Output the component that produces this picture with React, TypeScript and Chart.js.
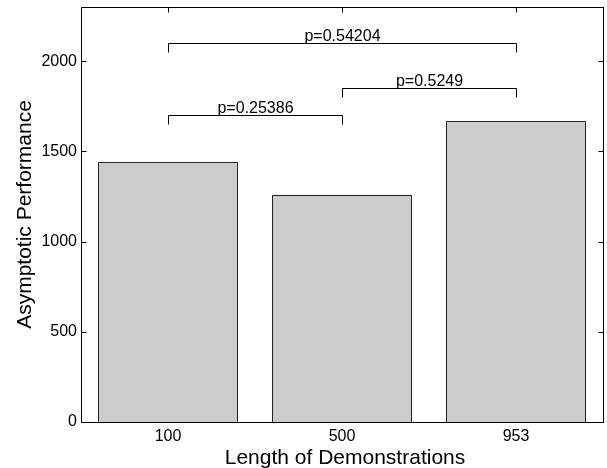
import { useEffect, useRef } from "react";
import { Chart, registerables } from "chart.js";
Chart.register(...registerables);

const categories = ["100", "500", "953"];
const performance = [1441, 1259, 1667];
const yTicks = [0, 500, 1000, 1500, 2000];
const yMax = 2300;
const bracketFrom = [0, 1, 0];
const bracketTo = [1, 2, 2];
const bracketLevel = [1700, 1850, 2100];
const bracketLabels = ["p=0.25386", "p=0.5249", "p=0.54204"];
const bracketDrop = 50;
const xTitle = "Length of Demonstrations";
const yTitle = "Asymptotic Performance";

const FONT = "'Liberation Sans', Arial, Helvetica, sans-serif";

const decor = {
  id: "decor",
  afterDatasetsDraw(chart: any) {
    const { ctx } = chart;
    const meta = chart.getDatasetMeta(0);
    ctx.save();
    ctx.strokeStyle = "#222222";
    ctx.lineWidth = 1;
    meta.data.forEach((bar: any) => {
      const { x, y, base, width } = bar.getProps(["x", "y", "base", "width"], true);
      const l = Math.round(x - width / 2) + 0.5;
      const r = Math.round(x + width / 2) - 0.5;
      const t = Math.round(y) + 0.5;
      const b = Math.round(base);
      ctx.beginPath();
      ctx.moveTo(l, b);
      ctx.lineTo(l, t);
      ctx.lineTo(r, t);
      ctx.lineTo(r, b);
      ctx.stroke();
    });
    ctx.restore();
  },
  afterDraw(chart: any) {
    const { ctx, chartArea: a, scales } = chart;
    const xs = scales.x;
    const ys = scales.y;
    const line = (x1: number, y1: number, x2: number, y2: number) => {
      ctx.beginPath();
      ctx.moveTo(x1, y1);
      ctx.lineTo(x2, y2);
      ctx.stroke();
    };
    ctx.save();
    ctx.strokeStyle = "#000";
    ctx.lineWidth = 1;
    const L = Math.round(a.left) + 0.5;
    const R = Math.round(a.right) + 0.5;
    const T = Math.round(a.top) + 0.5;
    const B = Math.round(a.bottom) + 0.5;
    ctx.strokeRect(L, T, R - L, B - T);
    yTicks.forEach((v) => {
      const py = Math.round(ys.getPixelForValue(v)) + 0.5;
      line(L, py, L + 5, py);
      line(R - 5, py, R, py);
    });
    categories.forEach((_, i) => {
      const px = Math.round(xs.getPixelForValue(i)) + 0.5;
      line(px, T, px, T + 5);
    });
    // significance brackets
    ctx.font = `16px ${FONT}`;
    ctx.fillStyle = "#000";
    ctx.textAlign = "center";
    ctx.textBaseline = "alphabetic";
    bracketLevel.forEach((lvl, k) => {
      const x1 = Math.round(xs.getPixelForValue(bracketFrom[k])) + 0.5;
      const x2 = Math.round(xs.getPixelForValue(bracketTo[k])) + 0.5;
      const py = Math.round(ys.getPixelForValue(lvl)) + 0.5;
      const pd = Math.round(ys.getPixelForValue(lvl - bracketDrop)) + 0.5;
      ctx.beginPath();
      ctx.moveTo(x1, pd);
      ctx.lineTo(x1, py);
      ctx.lineTo(x2, py);
      ctx.lineTo(x2, pd);
      ctx.stroke();
      ctx.fillText(bracketLabels[k], (x1 + x2) / 2, py - 3);
    });
    // axis titles
    ctx.font = `21px ${FONT}`;
    ctx.fillText(xTitle, (a.left + a.right) / 2 + 3, 464);
    ctx.translate(31, (a.top + a.bottom) / 2);
    ctx.rotate(-Math.PI / 2);
    ctx.fillText(yTitle, 0, 0);
    ctx.restore();
  },
};

export default function App() {
  const ref = useRef<HTMLCanvasElement | null>(null);
  useEffect(() => {
    document.body.style.margin = "0";
    const canvas = ref.current;
    if (!canvas) return;
    const chart = new Chart(canvas, {
      type: "bar",
      data: {
        labels: categories,
        datasets: [
          {
            data: performance,
            backgroundColor: "#cccccc",
            borderWidth: 0,
            barPercentage: 0.8,
            categoryPercentage: 1,
          },
        ],
      },
      options: {
        animation: false,
        responsive: false,
        maintainAspectRatio: false,
        devicePixelRatio: 1,
        layout: { padding: { top: 7, right: 4, left: 0, bottom: 0 } },
        plugins: { legend: { display: false }, tooltip: { enabled: false } },
        scales: {
          x: {
            type: "category",
            offset: true,
            grid: { display: false, drawTicks: false },
            border: { display: false },
            ticks: { color: "#000", font: { size: 16, family: FONT }, padding: 5 },
            afterFit: (s: any) => {
              s.height = 46;
              s.paddingLeft = 0;
              s.paddingRight = 0;
            },
          },
          y: {
            type: "linear",
            min: 0,
            max: yMax,
            grid: { display: false, drawTicks: false },
            border: { display: false },
            ticks: {
              color: "#000",
              font: { size: 16, family: FONT },
              padding: 4,
              callback: (v: any) => String(v),
            },
            afterBuildTicks: (s: any) => {
              s.ticks = yTicks.map((v) => ({ value: v }));
            },
            afterFit: (s: any) => {
              s.width = 81;
              s.paddingTop = 0;
              s.paddingBottom = 0;
            },
          },
        },
      },
      plugins: [decor],
    });
    return () => chart.destroy();
  }, []);
  return (
    <div style={{ width: 607, height: 468 }}>
      <canvas ref={ref} width={607} height={468} style={{ display: "block" }} />
    </div>
  );
}
